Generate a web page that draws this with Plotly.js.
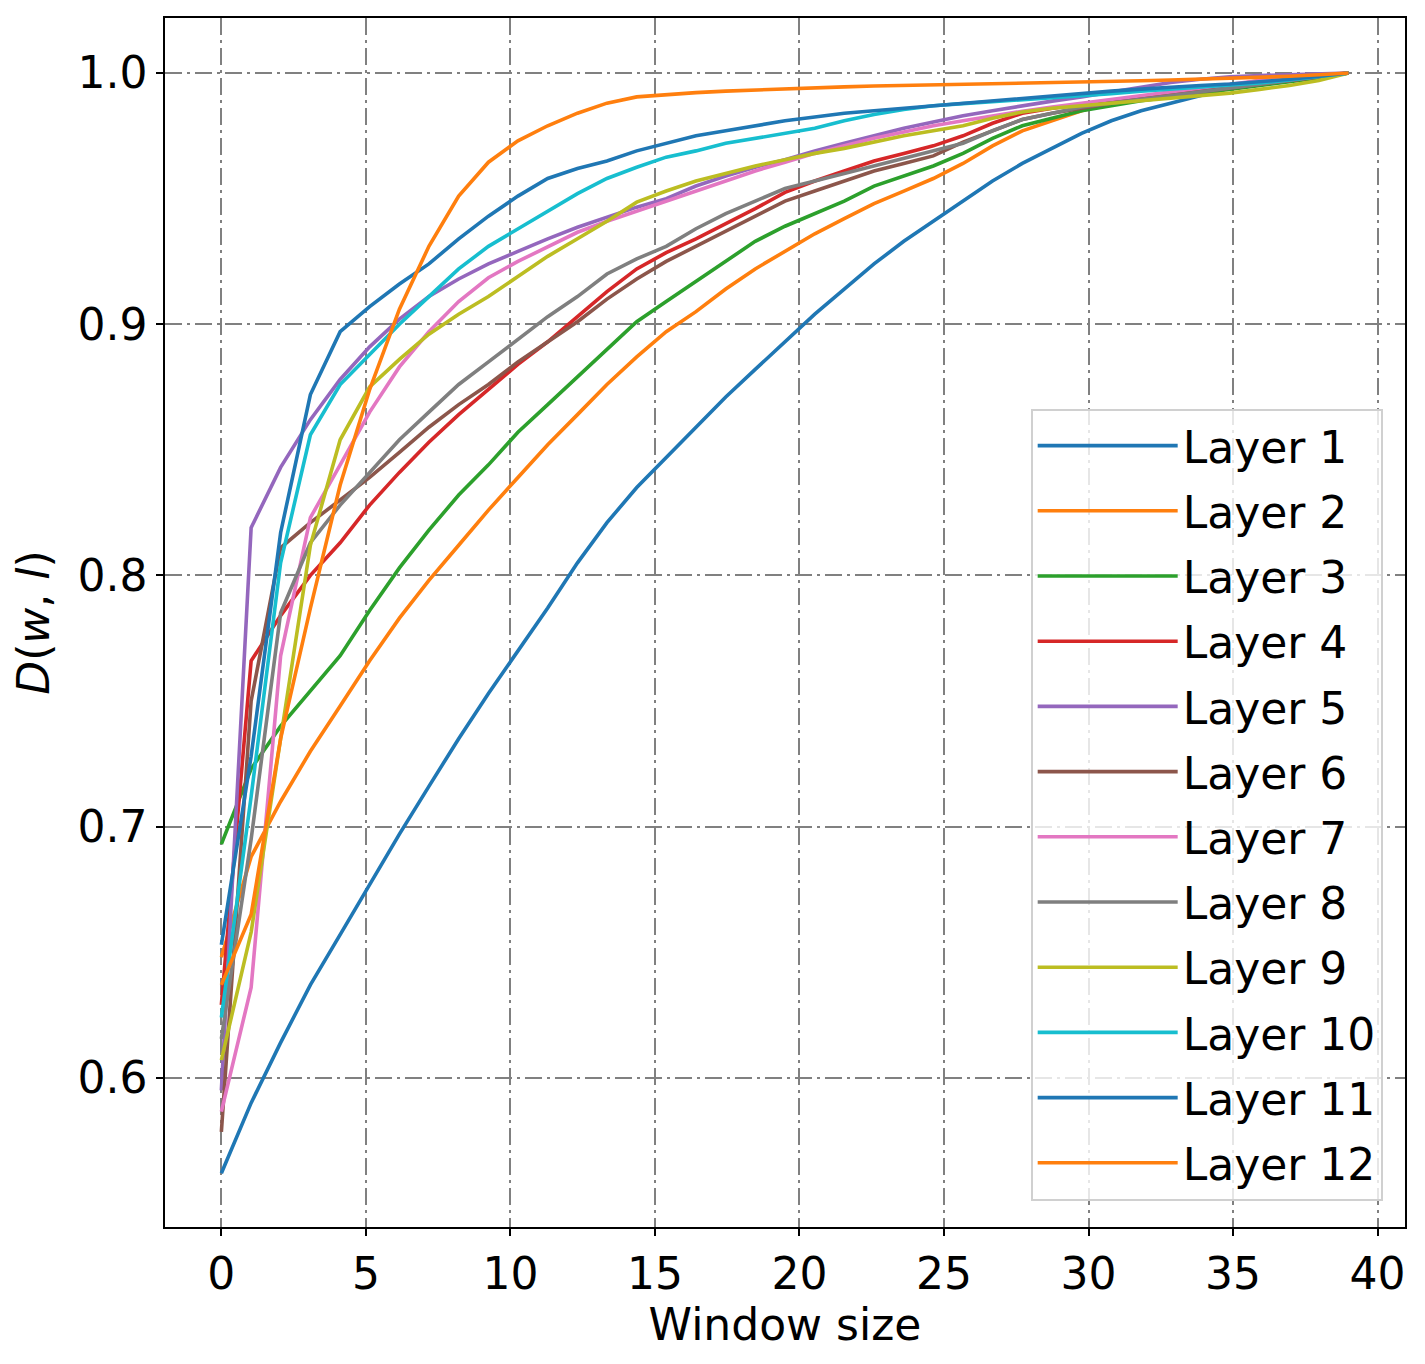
<!DOCTYPE html>
<html>
<head>
<meta charset="utf-8">
<script src="https://cdn.plot.ly/plotly-3.0.1.min.js"></script>
<style>
  html, body { margin: 0; padding: 0; background: #ffffff; }
  #chart { width: 1425px; height: 1364px; }
</style>
</head>
<body>
<div id="chart"></div>
<script>
// window sizes (x positions of the samples)
const windowSizes = [0, 1.03, 2.05, 3.08, 4.11, 5.13, 6.16, 7.18, 8.21, 9.24,
    10.26, 11.29, 12.32, 13.34, 14.37, 15.39, 16.42, 17.45, 18.47, 19.5,
    20.53, 21.55, 22.58, 23.61, 24.63, 25.66, 26.68, 27.71, 28.74, 29.76,
    30.79, 31.82, 32.84, 33.87, 34.89, 35.92, 36.95, 37.97, 39];

const layer1 = [0.562,0.590,0.614,0.637,0.657,0.677,0.697,0.716,0.735,0.753,
    0.770,0.787,0.805,0.821,0.835,0.847,0.859,0.871,0.882,0.893,
    0.904,0.914,0.924,0.933,0.941,0.949,0.957,0.964,0.970,0.976,
    0.981,0.985,0.988,0.991,0.994,0.996,0.998,0.999,1.0];
const layer2 = [0.648,0.688,0.710,0.730,0.748,0.766,0.783,0.798,0.812,0.826,
    0.839,0.852,0.864,0.876,0.887,0.897,0.905,0.914,0.922,0.929,
    0.936,0.942,0.948,0.953,0.958,0.964,0.971,0.977,0.981,0.985,
    0.988,0.990,0.992,0.994,0.995,0.997,0.998,0.999,1.0];
const layer3 = [0.693,0.723,0.740,0.754,0.768,0.786,0.803,0.818,0.832,0.844,
    0.857,0.868,0.879,0.890,0.901,0.909,0.917,0.925,0.933,0.939,
    0.944,0.949,0.955,0.959,0.963,0.968,0.974,0.979,0.982,0.985,
    0.987,0.989,0.9905,0.992,0.9935,0.995,0.9965,0.998,1.0];
const layer4 = [0.629,0.766,0.784,0.800,0.813,0.828,0.841,0.853,0.864,0.874,
    0.884,0.893,0.903,0.913,0.922,0.9285,0.934,0.940,0.946,0.9525,
    0.957,0.961,0.965,0.968,0.971,0.975,0.980,0.984,0.986,0.9875,
    0.989,0.9905,0.992,0.993,0.9945,0.996,0.997,0.9985,1.0];
const layer5 = [0.595,0.819,0.843,0.862,0.878,0.891,0.902,0.911,0.918,0.924,
    0.929,0.934,0.9386,0.9426,0.9466,0.950,0.955,0.959,0.9625,0.9655,
    0.969,0.972,0.975,0.978,0.9805,0.983,0.985,0.987,0.9888,0.9905,
    0.9925,0.9945,0.9962,0.9975,0.9985,0.999,0.9994,0.9997,1.0];
const layer6 = [0.5785,0.750,0.811,0.821,0.830,0.839,0.849,0.859,0.868,0.876,
    0.885,0.893,0.901,0.910,0.918,0.925,0.931,0.937,0.943,0.949,
    0.953,0.957,0.961,0.964,0.967,0.9725,0.977,0.9815,0.984,0.986,
    0.988,0.9895,0.991,0.9925,0.994,0.9955,0.997,0.9985,1.0];
const layer7 = [0.5865,0.636,0.768,0.823,0.844,0.865,0.883,0.897,0.909,0.9185,
    0.925,0.931,0.9366,0.941,0.945,0.949,0.953,0.957,0.961,0.9645,
    0.968,0.971,0.974,0.9765,0.979,0.981,0.983,0.9848,0.9865,0.988,
    0.9895,0.991,0.9925,0.994,0.9955,0.997,0.998,0.999,1.0];
const layer8 = [0.6155,0.695,0.785,0.813,0.828,0.841,0.854,0.865,0.876,0.885,
    0.894,0.903,0.911,0.920,0.926,0.931,0.938,0.944,0.949,0.954,
    0.957,0.960,0.963,0.966,0.969,0.972,0.977,0.9815,0.984,0.9865,
    0.988,0.9895,0.991,0.9925,0.994,0.9955,0.997,0.9985,1.0];
const layer9 = [0.607,0.658,0.735,0.812,0.854,0.875,0.886,0.896,0.904,0.911,
    0.919,0.927,0.934,0.941,0.9486,0.953,0.957,0.960,0.963,0.9655,
    0.968,0.970,0.9725,0.975,0.977,0.979,0.982,0.9845,0.986,0.987,
    0.988,0.989,0.990,0.991,0.992,0.9935,0.995,0.997,1.0];
const layer10 = [0.624,0.712,0.805,0.856,0.876,0.888,0.900,0.911,0.922,0.931,
    0.938,0.945,0.952,0.958,0.9625,0.9665,0.969,0.972,0.974,0.976,
    0.978,0.981,0.9835,0.9855,0.987,0.9878,0.9886,0.9894,0.990,0.9908,
    0.9918,0.9928,0.9936,0.9945,0.9952,0.996,0.9972,0.9985,1.0];
const layer11 = [0.653,0.728,0.817,0.872,0.897,0.907,0.916,0.924,0.934,0.943,
    0.951,0.958,0.962,0.965,0.969,0.972,0.975,0.977,0.979,0.981,
    0.9825,0.984,0.985,0.986,0.987,0.988,0.989,0.990,0.991,0.992,
    0.9928,0.9936,0.9944,0.995,0.9956,0.9965,0.9975,0.9987,1.0];
const layer12 = [0.637,0.665,0.735,0.787,0.836,0.874,0.906,0.931,0.951,0.9645,
    0.973,0.979,0.984,0.988,0.9905,0.9915,0.9922,0.9928,0.9933,0.9938,
    0.9942,0.9945,0.9948,0.9950,0.9952,0.9954,0.9956,0.9958,0.9960,0.9963,
    0.9966,0.9969,0.9972,0.9975,0.9978,0.9982,0.9987,0.9993,1.0];

const layerNames = ['Layer 1', 'Layer 2', 'Layer 3', 'Layer 4', 'Layer 5', 'Layer 6',
    'Layer 7', 'Layer 8', 'Layer 9', 'Layer 10', 'Layer 11', 'Layer 12'];
const layerValues = [layer1, layer2, layer3, layer4, layer5, layer6,
    layer7, layer8, layer9, layer10, layer11, layer12];

const xTicks = [0, 5, 10, 15, 20, 25, 30, 35, 40];
const yTicks = [0.6, 0.7, 0.8, 0.9, 1.0];

// matplotlib tab10 cycle
const COLORS = ['#1f77b4', '#ff7f0e', '#2ca02c', '#d62728', '#9467bd',
    '#8c564b', '#e377c2', '#7f7f7f', '#bcbd22', '#17becf'];

const FONT = 'DejaVu Sans, Verdana, sans-serif';
const FONT_SIZE = 44;
const GRID_DASH = '17px,5px,3px,5px';

function buildTraces() {
    return layerValues.map((vals, i) => ({
        x: windowSizes,
        y: vals,
        mode: 'lines',
        name: layerNames[i],
        legendgroup: 'g' + i,
        line: { color: COLORS[i % COLORS.length], width: 3.6 }
    }));
}

function axisStyle() {
    return {
        showline: true,
        mirror: true,
        linecolor: '#000000',
        linewidth: 1.6,
        ticks: 'outside',
        ticklen: 7,
        tickwidth: 1.6,
        tickcolor: '#000000',
        showgrid: true,
        gridcolor: '#808080',
        gridwidth: 1.6,
        griddash: GRID_DASH,
        zeroline: false,
        tickfont: { family: FONT, size: FONT_SIZE, color: '#000000' }
    };
}

const layout = {
    width: 1425,
    height: 1364,
    paper_bgcolor: '#ffffff',
    plot_bgcolor: '#ffffff',
    font: { family: FONT, color: '#000000' },
    margin: { l: 165, r: 20, t: 18, b: 137 },
    showlegend: true,
    xaxis: Object.assign(axisStyle(), {
        range: [-1.95, 40.95],
        tickvals: xTicks,
        ticktext: xTicks.map(String),
        title: { text: 'Window size', font: { family: FONT, size: FONT_SIZE, color: '#000000' }, standoff: 3 }
    }),
    yaxis: Object.assign(axisStyle(), {
        range: [0.5406, 1.0219],
        tickvals: yTicks,
        ticktext: yTicks.map(v => v.toFixed(1)),
        title: { text: '<i>D</i>(<i>w</i>, <i>l</i>)', font: { family: FONT, size: FONT_SIZE, color: '#000000' }, standoff: 14 }
    }),
    legend: {
        x: 0.982,
        y: 0.677,
        xanchor: 'right',
        yanchor: 'top',
        bgcolor: 'rgba(255,255,255,0.8)',
        bordercolor: '#d0d0d0',
        borderwidth: 2,
        font: { family: FONT, size: FONT_SIZE, color: '#000000' },
        tracegroupgap: 5,
        itemwidth: 140
    }
};

Plotly.newPlot('chart', buildTraces(), layout, { displayModeBar: false, responsive: false });
</script>
</body>
</html>
